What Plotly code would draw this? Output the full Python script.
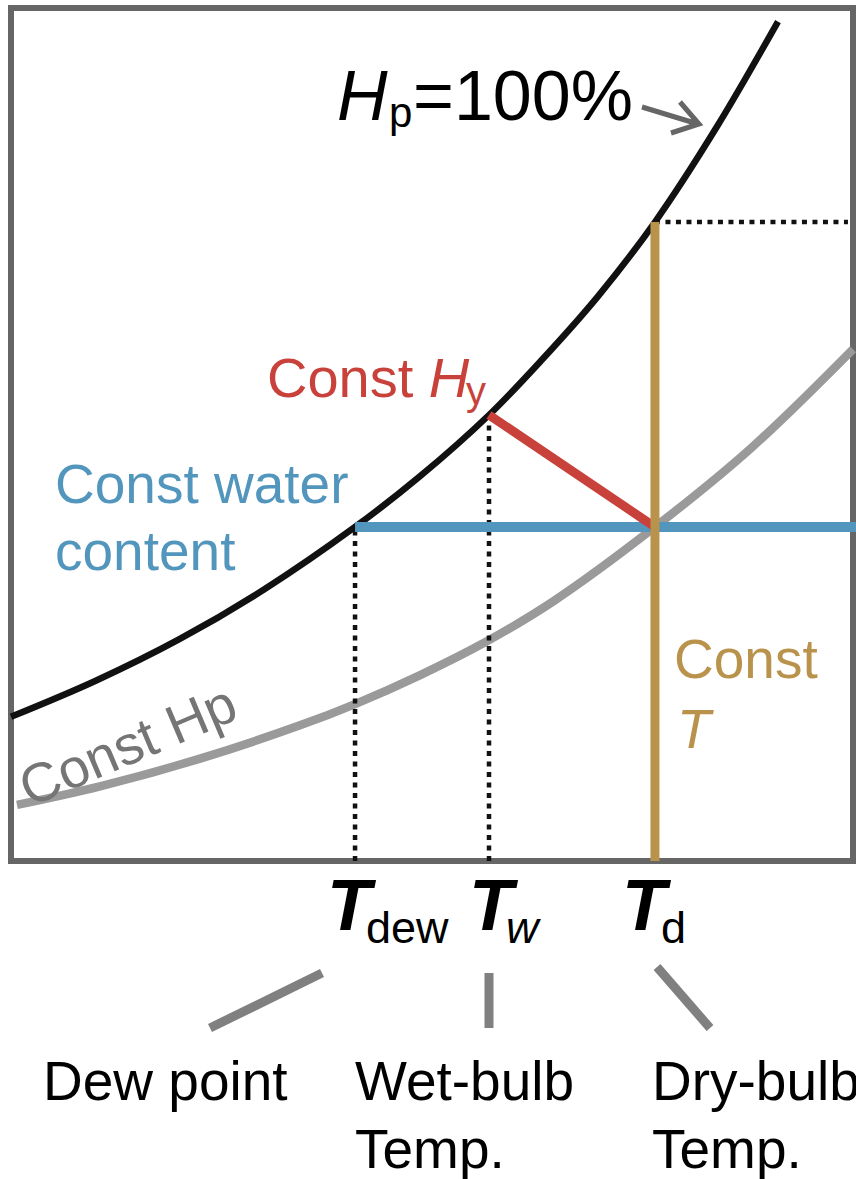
import plotly.graph_objects as go

# ---------------- data (diagram units: temperature 0-100 across the frame, humidity 0-100 up the frame)
sat_T = [0.0, 10.0, 20.0, 30.0, 40.86, 48.5, 56.77, 63.0, 69.71, 76.48, 83.85, 91.09]   # Hp = 100 % curve
sat_H = [16.9, 21.1, 26.0, 31.8, 39.16, 45.04, 52.29, 58.7, 66.2, 74.91, 86.1, 98.4]
hp_T = [0.71, 10.57, 22.45, 34.32, 40.86, 48.6, 56.41, 64.49, 76.48, 88.0, 100.0]      # constant Hp curve
hp_H = [6.57, 8.75, 12.0, 15.9, 18.4, 21.8, 25.7, 30.5, 39.16, 48.5, 60.0]

T_dew, T_w, T_d = 40.86, 56.77, 76.48       # dew point, wet bulb, dry bulb
H_water = 39.16                             # constant water content level
H_sat_w = 52.29                             # saturation at wet-bulb temp
H_sat_d = 74.91                             # saturation at dry-bulb temp
T_edge = 100.4
T_dot_end = 99.4

temp_symbols = ["T", "T", "T"]
temp_subs = ["dew", "<i>w</i>", "d"]
temp_names_1 = ["Dew point", "Wet-bulb", "Dry-bulb"]
temp_names_2 = ["", "Temp.", "Temp."]

# ---------------- layout geometry
W, H = 856, 1179
FL, FR, FT, FB = 11, 853, 8, 861
sx = (FR - FL) / 100.0
sy = (FB - FT) / 100.0
FONT = "Liberation Sans, Arial, Helvetica, sans-serif"

RED = "#C8423B"
BLUE = "#5396BD"
GOLD = "#B9924B"
GRAY = "#9A9A9A"

fig = go.Figure()

def line(x, y, color, width, dash="solid", shape="linear"):
    fig.add_trace(go.Scatter(x=x, y=y, mode="lines", hoverinfo="skip", showlegend=False,
                             line=dict(color=color, width=width, dash=dash, shape=shape, smoothing=1.0)))

line(hp_T, hp_H, GRAY, 8.5, shape="spline")
line(sat_T, sat_H, "#111111", 6.5, shape="spline")
DOT = "5px,5.5px"
line([T_dew, T_dew], [0, H_water], "#111111", 4.5, DOT)
line([T_w, T_w], [0, H_sat_w], "#111111", 4.5, DOT)
line([T_d, T_dot_end], [H_sat_d, H_sat_d], "#111111", 4.5, DOT)
line([T_dew, T_edge], [H_water, H_water], BLUE, 10)
line([T_w, T_d], [H_sat_w, H_water], RED, 9)
line([T_d, T_d], [0, H_sat_d], GOLD, 9)

def px(x):
    return x / W

def py(y):
    return 1 - y / H

anns = []

def ann(text, x_px, base_px, fs, color="#000000", xanchor="left"):
    yc = base_px - 0.3465 * fs
    anns.append(dict(text=text, x=px(x_px), y=py(yc), xref="paper", yref="paper",
                     xanchor=xanchor, yanchor="middle", showarrow=False,
                     borderpad=0, borderwidth=0,
                     font=dict(size=fs, color=color, family=FONT)))

# Hp = 100%
ann("<i>H</i>", 337, 120, 70)
ann("p", 389, 127, 42)
ann("=100%", 413, 120, 70)
# Const Hy
ann("Const <i>H</i>", 267, 397, 56, RED)
ann("y", 466, 405, 40, RED)
# Const water content
ann("Const water", 55, 503, 55, BLUE)
ann("content", 55, 570, 55, BLUE)
# Const T
ann("Const", 674, 678, 55, GOLD)
ann("<i>T</i>", 677, 748, 55, GOLD)
# Const Hp (rotated)
anns.append(dict(text="Const Hp", x=px(128), y=py(745), xref="paper", yref="paper",
                 xanchor="center", yanchor="middle", showarrow=False, textangle=-23,
                 borderpad=0, borderwidth=0,
                 font=dict(size=55, color="#757575", family=FONT)))

# temperature symbols
sym_x = [327, 469, 622]
sub_x = [366, 506, 661]
for s, sub, xs, xb in zip(temp_symbols, temp_subs, sym_x, sub_x):
    ann("<b><i>%s</i></b>" % s, xs, 930, 72)
    ann(sub, xb, 943, 45)

name_x = [43, 355, 652]
for n1, n2, xn in zip(temp_names_1, temp_names_2, name_x):
    ann(n1, xn, 1100, 55)
    if n2:
        ann(n2, xn, 1168, 55)

shapes = []
# frame
shapes.append(dict(type="rect", xref="x", yref="y", x0=0, x1=100, y0=0, y1=100,
                   line=dict(color="#666666", width=6), layer="below"))
# connectors
for (x0, y0, x1, y1) in [(322, 973, 210, 1028), (489, 973, 489, 1028), (657, 967, 710, 1028)]:
    shapes.append(dict(type="line", xref="paper", yref="paper", x0=px(x0), y0=py(y0),
                       x1=px(x1), y1=py(y1), line=dict(color="#808080", width=9)))
# arrow
def P(x, y):
    return "%f,%f" % (px(x), py(y))
shapes.append(dict(type="path", xref="paper", yref="paper",
                   path="M%s L%s M%s L%s L%s" % (P(642, 107), P(698, 124), P(680, 102), P(699, 124), P(671, 133)),
                   line=dict(color="#666666", width=5)))

fig.update_layout(
    width=W, height=H,
    margin=dict(l=0, r=0, t=0, b=0),
    paper_bgcolor="white", plot_bgcolor="white",
    xaxis=dict(range=[-FL / sx, (W - FL) / sx], visible=False, fixedrange=True),
    yaxis=dict(range=[-(H - FB) / sy, FB / sy], visible=False, fixedrange=True),
    annotations=anns, shapes=shapes, showlegend=False,
)

fig.write_html("out.html", config={"displayModeBar": False, "staticPlot": True},
               post_script="document.body.style.margin='0';document.body.style.overflow='hidden';")
